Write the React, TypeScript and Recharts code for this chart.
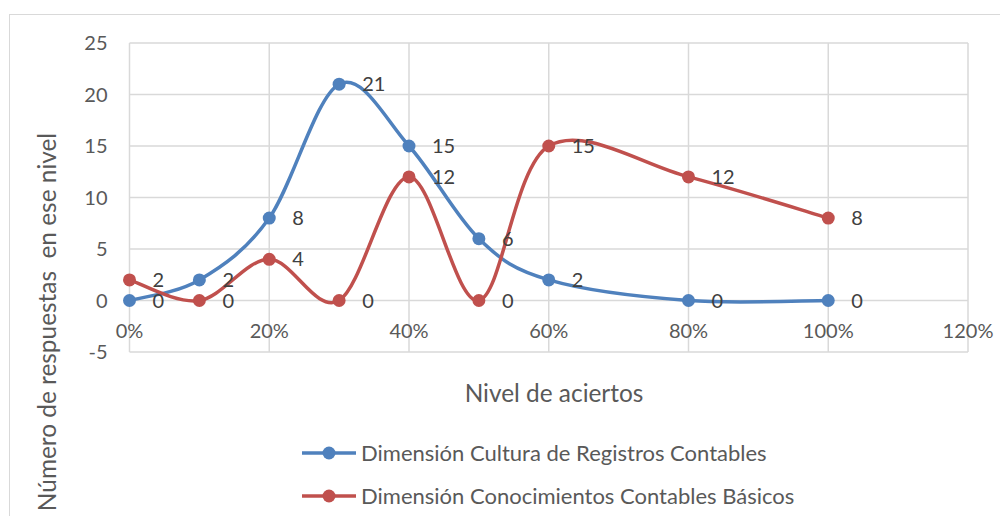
import React from 'react';
import { LineChart, Line, XAxis, YAxis, CartesianGrid, LabelList, Legend } from 'recharts';

// Nivel de aciertos (fraction) for each observed point
const niveles = [0, 0.1, 0.2, 0.3, 0.4, 0.5, 0.6, 0.8, 1.0];
// Número de respuestas por nivel
const culturaRegistros = [0, 2, 8, 21, 15, 6, 2, 0, 0];
const conocimientosBasicos = [2, 0, 4, 0, 12, 0, 15, 12, 8];

const serieCultura = 'Dimensión Cultura de Registros Contables';
const serieConocimientos = 'Dimensión Conocimientos Contables Básicos';

const xTicks = [0, 0.2, 0.4, 0.6, 0.8, 1.0, 1.2];
const yTicks = [-5, 0, 5, 10, 15, 20, 25];

const BLUE = '#4F81BD';
const RED = '#C0504D';
const TEXT = '#595959';
const FONT = 'Lato, "Noto Sans", sans-serif';

const data = niveles.map((n, i) => ({
  nivel: n,
  cultura: culturaRegistros[i],
  conocimientos: conocimientosBasicos[i],
}));

// Smoothed line in the style of spreadsheet "smoothed line" charts:
// cubic Bezier segments with Catmull-Rom control points (1/6 of neighbour span).
function smoothCurve(context: any) {
  let pts: number[][] = [];
  return {
    areaStart() {},
    areaEnd() {},
    lineStart() {
      pts = [];
    },
    lineEnd() {
      const n = pts.length;
      if (!n) return;
      context.moveTo(pts[0][0], pts[0][1]);
      for (let i = 0; i < n - 1; i++) {
        const p0 = pts[Math.max(i - 1, 0)];
        const p1 = pts[i];
        const p2 = pts[i + 1];
        const p3 = pts[Math.min(i + 2, n - 1)];
        context.bezierCurveTo(
          p1[0] + (p2[0] - p0[0]) / 6,
          p1[1] + (p2[1] - p0[1]) / 6,
          p2[0] - (p3[0] - p1[0]) / 6,
          p2[1] - (p3[1] - p1[1]) / 6,
          p2[0],
          p2[1]
        );
      }
    },
    point(x: number, y: number) {
      pts.push([+x, +y]);
    },
  };
}

const pct = (v: number) => `${Math.round(v * 100)}%`;

const XTick = (props: any) => {
  const { x, y, payload } = props;
  return (
    <text x={x} y={y} dy={-14} textAnchor="middle" fill={TEXT} fontSize={20} fontFamily={FONT}>
      {pct(payload.value)}
    </text>
  );
};

const YTick = (props: any) => {
  const { x, y, payload } = props;
  return (
    <text x={x} y={y} dx={-22} dy="0.36em" textAnchor="end" fill={TEXT} fontSize={20} fontFamily={FONT}>
      {payload.value}
    </text>
  );
};

const XTitle = () => (
  <text x={546} y={394} textAnchor="middle" fill={TEXT} fontSize={24.4} fontFamily={FONT}>
    Nivel de aciertos
  </text>
);

const YTitle = () => (
  <text
    x={39}
    y={314}
    transform="rotate(-90 39 314)"
    textAnchor="middle"
    dy="0.35em"
    fill={TEXT}
    fontSize={24.4}
    fontFamily={FONT}
    style={{ whiteSpace: 'pre' }}
  >
    {'Número de respuestas  en ese nivel'}
  </text>
);

const legendItems = [
  { name: serieCultura, color: BLUE },
  { name: serieConocimientos, color: RED },
];

const LegendContent = () => (
  <div style={{ fontFamily: FONT }}>
    {legendItems.map((it) => (
      <div key={it.name} style={{ display: 'flex', alignItems: 'center', height: 43 }}>
        <svg width={54} height={16} style={{ display: 'block' }}>
          <line x1={0} y1={8} x2={54} y2={8} stroke={it.color} strokeWidth={3.5} />
          <circle cx={27} cy={8} r={6.5} fill={it.color} />
        </svg>
        <span style={{ marginLeft: 5, fontSize: 22, color: TEXT, whiteSpace: 'nowrap' }}>{it.name}</span>
      </div>
    ))}
  </div>
);

const labelStyle = { fill: '#404040', fontSize: 20, fontFamily: FONT };

export default function App() {
  return (
    <div style={{ position: 'relative', width: 1000, height: 508, overflow: 'hidden', background: '#fff' }}>
      <div
        style={{
          position: 'absolute',
          left: 1,
          top: 6,
          width: 1100,
          height: 700,
          border: '1.5px solid #d9d9d9',
          boxSizing: 'border-box',
        }}
      />
      <LineChart
        width={1000}
        height={508}
        data={data}
        margin={{ top: 35, right: 40, left: 61.5, bottom: 134 }}
      >
        <CartesianGrid stroke="#d9d9d9" strokeWidth={1.5} />
        <XAxis
          dataKey="nivel"
          type="number"
          domain={[0, 1.2]}
          ticks={xTicks}
          axisLine={false}
          tickLine={false}
          tickSize={0}
          tickMargin={0}
          height={30}
          tick={<XTick />}
          interval={0}
          label={{ content: <XTitle /> }}
        />
        <YAxis
          type="number"
          domain={[-5, 25]}
          ticks={yTicks}
          axisLine={false}
          tickLine={false}
          tickSize={0}
          tickMargin={0}
          width={60}
          tick={<YTick />}
          interval={0}
          label={{ content: <YTitle /> }}
        />
        <Legend
          layout="vertical"
          align="center"
          verticalAlign="middle"
          content={<LegendContent />}
          wrapperStyle={{ top: 423, left: 294, width: 'auto' }}
        />
        <Line
          name={serieCultura}
          dataKey="cultura"
          type={smoothCurve as any}
          stroke={BLUE}
          strokeWidth={3.5}
          dot={{ r: 6.5, fill: BLUE, stroke: BLUE, strokeWidth: 0 }}
          activeDot={false}
          isAnimationActive={false}
        >
          <LabelList dataKey="cultura" position="right" offset={23} style={labelStyle} />
        </Line>
        <Line
          name={serieConocimientos}
          dataKey="conocimientos"
          type={smoothCurve as any}
          stroke={RED}
          strokeWidth={3.5}
          dot={{ r: 6.5, fill: RED, stroke: RED, strokeWidth: 0 }}
          activeDot={false}
          isAnimationActive={false}
        >
          <LabelList dataKey="conocimientos" position="right" offset={23} style={labelStyle} />
        </Line>
      </LineChart>
    </div>
  );
}
